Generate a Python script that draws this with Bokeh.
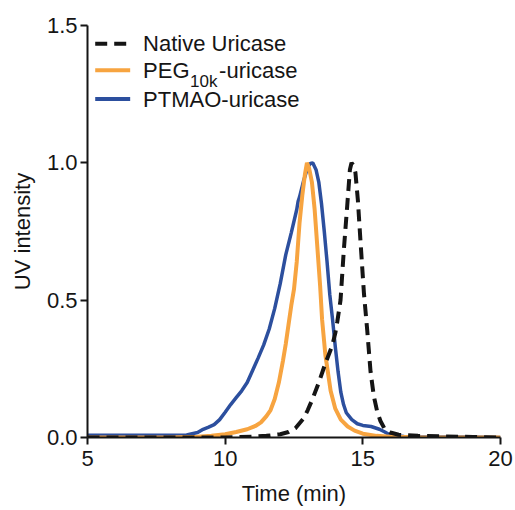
from bokeh.plotting import figure
from bokeh.models import Range1d, FixedTicker, PrintfTickFormatter, Label, Arrow
from bokeh.embed import file_html
from bokeh.resources import INLINE

# ---- data ----
ptmao_t = [5.0, 6.0, 7.0, 8.0, 8.6, 9.0, 9.2, 9.4, 9.6, 9.8, 10.0, 10.2, 10.4, 10.6,
           10.8, 11.0, 11.2, 11.4, 11.6, 11.8, 12.0, 12.2, 12.4, 12.6, 12.65, 12.7,
           12.85, 13.0, 13.1, 13.18, 13.3, 13.4, 13.5, 13.6, 13.7, 13.8, 13.9, 14.0,
           14.1, 14.2, 14.3, 14.4, 14.6, 14.8, 15.0, 15.3, 15.6, 15.8, 16.0, 16.5,
           17.0, 18.0, 19.0, 20.0]
ptmao_y = [0.008, 0.008, 0.008, 0.008, 0.009, 0.018, 0.03, 0.038, 0.047, 0.065, 0.092,
           0.12, 0.145, 0.17, 0.2, 0.245, 0.29, 0.337, 0.395, 0.47, 0.56, 0.665,
           0.745, 0.83, 0.86, 0.875, 0.935, 0.985, 0.998, 1.0, 0.975, 0.93, 0.85,
           0.75, 0.64, 0.52, 0.43, 0.33, 0.24, 0.165, 0.12, 0.09, 0.065, 0.05, 0.044,
           0.04, 0.03, 0.02, 0.008, 0.004, 0.003, 0.002, 0.002, 0.0]

peg_t = [5.0, 8.0, 9.0, 9.5, 10.0, 10.4, 10.8, 11.1, 11.3, 11.5, 11.65, 11.8, 11.95,
         12.1, 12.2, 12.3, 12.4, 12.5, 12.6, 12.7, 12.8, 12.9, 12.97, 13.05, 13.15,
         13.25, 13.35, 13.45, 13.52, 13.64, 13.83, 14.0, 14.2, 14.45, 14.7, 15.0,
         15.5, 16.0, 17.0, 20.0]
peg_y = [0.0, 0.0, 0.003, 0.006, 0.012, 0.02, 0.03, 0.042, 0.055, 0.078, 0.1, 0.14,
         0.2, 0.28, 0.34, 0.41, 0.48, 0.54, 0.64, 0.78, 0.88, 0.96, 1.0, 0.98, 0.93,
         0.83, 0.69, 0.55, 0.43, 0.3, 0.17, 0.105, 0.065, 0.04, 0.025, 0.014, 0.006,
         0.003, 0.001, 0.0]

native_t = [5.0, 10.0, 11.0, 11.5, 12.0, 12.3, 12.55, 12.85, 13.0, 13.16, 13.4, 13.64,
            13.89, 14.0, 14.07, 14.19, 14.31, 14.43, 14.53, 14.59, 14.66, 14.73,
            14.82, 14.92, 15.04, 15.16, 15.28, 15.4, 15.52, 15.64, 15.8, 16.0, 16.3,
            17.0, 18.0, 19.0, 20.0]
native_y = [0.0, 0.0, 0.003, 0.006, 0.012, 0.02, 0.034, 0.07, 0.1, 0.137, 0.2, 0.27,
            0.335, 0.38, 0.42, 0.5, 0.683, 0.84, 0.975, 1.0, 0.99, 0.965, 0.864, 0.707,
            0.525, 0.39, 0.24, 0.15, 0.095, 0.06, 0.03, 0.018, 0.01, 0.006, 0.004,
            0.002, 0.0]

x_ticks = [5, 10, 15, 20]
y_ticks = [0.0, 0.5, 1.0, 1.5]

series_names = ["Native Uricase", "PEG", "10k", "-uricase", "PTMAO-uricase"]

# ---- style ----
FONT = "Liberation Sans"
BLACK = "#151515"
ORANGE = "#F7A440"
BLUE = "#2C4F9E"
DASH = "12 7"

p = figure(width=513, height=508, output_backend="svg",
           toolbar_location=None,
           x_range=Range1d(x_ticks[0], x_ticks[-1]),
           y_range=Range1d(y_ticks[0], y_ticks[-1]),
           min_border_left=87, min_border_right=13, min_border_top=25,
           min_border_bottom=70)

p.outline_line_color = None
p.grid.visible = False
p.background_fill_color = "white"
p.border_fill_color = "white"

p.line(ptmao_t, ptmao_y, line_color=BLUE, line_width=3.5)
p.line(peg_t, peg_y, line_color=ORANGE, line_width=4)
p.line(native_t, native_y, line_color=BLACK, line_width=4, line_dash=DASH)

for ax in (p.xaxis[0], p.yaxis[0]):
    ax.axis_line_width = 2
    ax.axis_line_color = BLACK
    ax.major_tick_line_width = 2
    ax.major_tick_line_color = BLACK
    ax.major_tick_out = 7
    ax.major_tick_in = 0
    ax.minor_tick_line_color = None
    ax.major_label_text_font = FONT
    ax.major_label_text_font_size = "22px"
    ax.major_label_text_color = BLACK
    ax.axis_label_text_font = FONT
    ax.axis_label_text_font_size = "22px"
    ax.axis_label_text_font_style = "normal"
    ax.axis_label_text_color = BLACK

p.xaxis.ticker = FixedTicker(ticks=x_ticks)
p.yaxis.ticker = FixedTicker(ticks=y_ticks)
p.xaxis.formatter = PrintfTickFormatter(format="%d")
p.yaxis.formatter = PrintfTickFormatter(format="%.1f")
p.xaxis.axis_label = "Time (min)"
p.yaxis.axis_label = "UV intensity"
p.xaxis.major_label_standoff = 6
p.xaxis.axis_label_standoff = 12
p.yaxis.major_label_standoff = 3
p.yaxis.axis_label_standoff = 9

# ---- legend (manual, to allow the subscript) ----
leg_x0, leg_x1, leg_tx = 5.28, 6.55, 7.02
rows = [1.434, 1.337, 1.232]
p.add_layout(Arrow(end=None, x_start=leg_x0, x_end=leg_x1, y_start=rows[0], y_end=rows[0],
                   line_color=BLACK, line_width=4, line_dash=DASH))
p.add_layout(Arrow(end=None, x_start=leg_x0, x_end=leg_x1, y_start=rows[1], y_end=rows[1],
                   line_color=ORANGE, line_width=4))
p.add_layout(Arrow(end=None, x_start=leg_x0, x_end=leg_x1, y_start=rows[2], y_end=rows[2],
                   line_color=BLUE, line_width=4))

def lab(text, y, xoff=0, yoff=0, size="22px"):
    p.add_layout(Label(x=leg_tx, y=y, x_offset=xoff, y_offset=yoff, text=text,
                       text_font=FONT, text_font_size=size, text_color=BLACK,
                       text_baseline="middle", text_align="left"))

lab(series_names[0], rows[0])
lab(series_names[1], rows[1])
lab(series_names[2], rows[1], xoff=47, yoff=-11, size="17px")
lab(series_names[3], rows[1], xoff=76)
lab(series_names[4], rows[2])

open("out.html", "w").write(file_html(p, INLINE))
